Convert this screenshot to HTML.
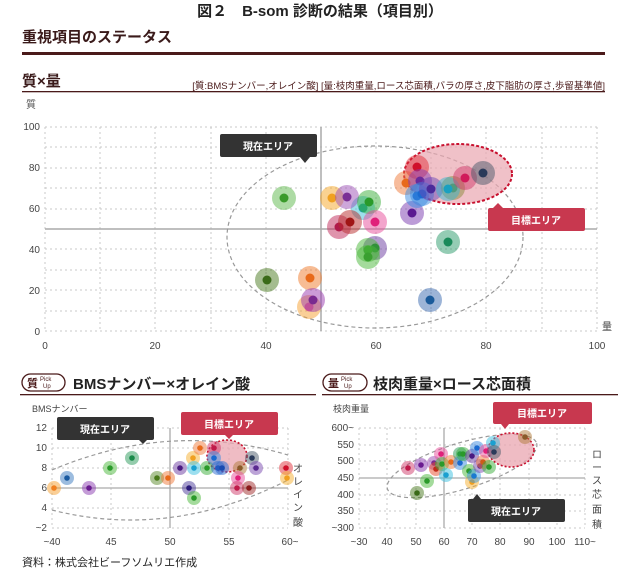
<!DOCTYPE html>
<html><head><meta charset="utf-8"><style>
html,body{margin:0;padding:0;background:#fff;}
svg{display:block;font-family:"Liberation Sans","Noto Sans CJK JP",sans-serif;}
.g{stroke:#c8c8c8;stroke-width:1;stroke-dasharray:2 3;fill:none}
.t{font-size:10px;fill:#444}
.b circle:nth-child(odd){opacity:.5}
</style></head><body>
<svg width="640" height="569" viewBox="0 0 640 569" xmlns="http://www.w3.org/2000/svg">
<text x="320" y="16" text-anchor="middle" font-size="15" font-weight="bold" fill="#222">図２　B-som 診断の結果（項目別）</text>
<text x="22" y="42" font-size="15" font-weight="bold" fill="#3a1a1a">重視項目のステータス</text>
<rect x="22" y="52" width="583" height="3" fill="#4a1a1a"/>
<text x="22" y="86" font-size="15" font-weight="bold" fill="#3a1a1a">質×量</text>
<text x="605" y="89" text-anchor="end" font-size="9.5" fill="#4a1a1a">[質:BMSナンバー,オレイン酸] [量:枝肉重量,ロース芯面積,バラの厚さ,皮下脂肪の厚さ,歩留基準値]</text>
<rect x="22" y="91" width="583" height="1.3" fill="#4a1a1a"/>
<text x="26" y="108" font-size="10" fill="#555">質</text>

<g class="g">
<line x1="45" y1="127" x2="45" y2="331"/><line x1="100" y1="127" x2="100" y2="331"/><line x1="155" y1="127" x2="155" y2="331"/><line x1="211" y1="127" x2="211" y2="331"/><line x1="266" y1="127" x2="266" y2="331"/><line x1="376" y1="127" x2="376" y2="331"/><line x1="431" y1="127" x2="431" y2="331"/><line x1="486" y1="127" x2="486" y2="331"/><line x1="542" y1="127" x2="542" y2="331"/><line x1="597" y1="127" x2="597" y2="331"/>
<line x1="45" y1="127" x2="597" y2="127"/><line x1="45" y1="147" x2="597" y2="147"/><line x1="45" y1="168" x2="597" y2="168"/><line x1="45" y1="188" x2="597" y2="188"/><line x1="45" y1="209" x2="597" y2="209"/><line x1="45" y1="249" x2="597" y2="249"/><line x1="45" y1="270" x2="597" y2="270"/><line x1="45" y1="290" x2="597" y2="290"/><line x1="45" y1="311" x2="597" y2="311"/><line x1="45" y1="331" x2="597" y2="331"/>
</g>
<line x1="45" y1="229" x2="597" y2="229" stroke="#aaa" stroke-width="1.5"/>
<line x1="321" y1="127" x2="321" y2="331" stroke="#aaa" stroke-width="1.5"/>
<g class="t" text-anchor="end">
<text x="40" y="130">100</text><text x="40" y="171">80</text><text x="40" y="212">60</text><text x="40" y="253">40</text><text x="40" y="294">20</text><text x="40" y="335">0</text>
</g>
<g class="t" text-anchor="middle">
<text x="45" y="349">0</text><text x="155" y="349">20</text><text x="266" y="349">40</text><text x="376" y="349">60</text><text x="486" y="349">80</text><text x="597" y="349">100</text>
</g>
<text x="602" y="330" font-size="10" fill="#444">量</text>
<ellipse cx="375" cy="237" rx="148" ry="91" fill="none" stroke="#999" stroke-width="1.2" stroke-dasharray="4 3"/>
<ellipse cx="458" cy="174" rx="54" ry="30" fill="#e9a6b0" fill-opacity=".7" stroke="#c8102e" stroke-width="2" stroke-dasharray="3 2"/>
<g class="b">
<circle cx="284" cy="198" r="12" fill="#5cb84a"/><circle cx="284" cy="198" r="4.5" fill="#3a9a2a"/>
<circle cx="332" cy="198" r="12" fill="#f5a623"/><circle cx="332" cy="198" r="4.5" fill="#f0a020"/>
<circle cx="363" cy="208" r="12" fill="#3cc0d8"/><circle cx="363" cy="208" r="4.5" fill="#1aa0a0"/>
<circle cx="347" cy="197" r="12" fill="#9b4fb5"/><circle cx="347" cy="197" r="4.5" fill="#7a2f95"/>
<circle cx="369" cy="202" r="12" fill="#3aad3a"/><circle cx="369" cy="202" r="4.5" fill="#2a9a2a"/>
<circle cx="375" cy="222" r="12" fill="#e84c9a"/><circle cx="375" cy="222" r="4.5" fill="#e0207a"/>
<circle cx="339" cy="227" r="12" fill="#c02a5a"/><circle cx="339" cy="227" r="4.5" fill="#b01a4a"/>
<circle cx="350" cy="222" r="12" fill="#b82a2a"/><circle cx="350" cy="222" r="4.5" fill="#a01515"/>
<circle cx="375" cy="248" r="12" fill="#6a3aa0"/><circle cx="375" cy="248" r="4.5" fill="#1a6a3a"/>
<circle cx="368" cy="250" r="12" fill="#4ab83a"/><circle cx="368" cy="250" r="4.5" fill="#3aa030"/>
<circle cx="368" cy="257" r="12" fill="#4ab83a"/><circle cx="368" cy="257" r="4.5" fill="#3aa030"/>
<circle cx="267" cy="280" r="12" fill="#4a7a20"/><circle cx="267" cy="280" r="4.5" fill="#3a6a18"/>
<circle cx="310" cy="278" r="12" fill="#f07a2a"/><circle cx="310" cy="278" r="4.5" fill="#e86a1a"/>
<circle cx="309" cy="307" r="12" fill="#f5a030"/><circle cx="309" cy="307" r="4.5" fill="#e86a80"/>
<circle cx="313" cy="300" r="12" fill="#9a3ab0"/><circle cx="313" cy="300" r="4.5" fill="#7a2a90"/>
<circle cx="430" cy="300" r="12" fill="#3a6ab0"/><circle cx="430" cy="300" r="4.5" fill="#1a5a9a"/>
<circle cx="448" cy="242" r="12" fill="#2a9a6a"/><circle cx="448" cy="242" r="4.5" fill="#1a8a5a"/>
<circle cx="412" cy="213" r="12" fill="#7a3ab0"/><circle cx="412" cy="213" r="4.5" fill="#5a1a90"/>
<circle cx="406" cy="183" r="12" fill="#f07a3a"/><circle cx="406" cy="183" r="4.5" fill="#e86a1a"/>
<circle cx="417" cy="167" r="12" fill="#e0303a"/><circle cx="417" cy="167" r="4.5" fill="#d0102a"/>
<circle cx="420" cy="181" r="12" fill="#8a3ab0"/><circle cx="420" cy="181" r="4.5" fill="#6a2a9a"/>
<circle cx="417" cy="196" r="12" fill="#3a8ae0"/><circle cx="417" cy="196" r="4.5" fill="#1a6ad0"/>
<circle cx="422" cy="194" r="12" fill="#3a8ae0"/><circle cx="422" cy="194" r="4.5" fill="#1a6ad0"/>
<circle cx="431" cy="189" r="12" fill="#6a4ab8"/><circle cx="431" cy="189" r="4.5" fill="#4a2a9a"/>
<circle cx="453" cy="188" r="12" fill="#8a8a3a"/><circle cx="453" cy="188" r="4.5" fill="#6a7a2a"/>
<circle cx="448" cy="189" r="12" fill="#3ab8d0"/><circle cx="448" cy="189" r="4.5" fill="#1aa0c0"/>
<circle cx="465" cy="178" r="12" fill="#d03a6a"/><circle cx="465" cy="178" r="4.5" fill="#d01a5a"/>
<circle cx="483" cy="173" r="12" fill="#4a5a6a"/><circle cx="483" cy="173" r="4.5" fill="#2a3a5a"/>
</g>
<rect x="220" y="134" width="97" height="23" rx="2" fill="#333"/>
<path d="M300 157 L305 163 L310 157Z" fill="#333"/>
<text x="268" y="150" text-anchor="middle" font-size="10" font-weight="bold" fill="#fff">現在エリア</text>
<rect x="488" y="208" width="97" height="23" rx="2" fill="#c8384f"/>
<path d="M493 208 L498 203 L503 208Z" fill="#c8384f"/>
<text x="536" y="224" text-anchor="middle" font-size="10" font-weight="bold" fill="#fff">目標エリア</text>

<rect x="22" y="374" width="43" height="17" rx="8.5" fill="#fff" stroke="#4a1a1a" stroke-width="1.3"/>
<text x="27" y="387" font-size="11" font-weight="bold" fill="#4a1a1a">質</text>
<text x="40" y="381" font-size="6" fill="#4a1a1a">Pick</text><text x="43" y="388" font-size="6" fill="#4a1a1a">Up</text>
<text x="73" y="389" font-size="15" font-weight="bold" fill="#222">BMSナンバー×オレイン酸</text>
<rect x="20" y="394" width="296" height="1.3" fill="#4a1a1a"/>
<text x="32" y="412" font-size="9" fill="#444">BMSナンバー</text>
<g class="g">
<line x1="52" y1="428" x2="52" y2="528"/><line x1="111" y1="428" x2="111" y2="528"/><line x1="229" y1="428" x2="229" y2="528"/><line x1="288" y1="428" x2="288" y2="528"/>
<line x1="52" y1="428" x2="288" y2="428"/><line x1="52" y1="448" x2="288" y2="448"/><line x1="52" y1="468" x2="288" y2="468"/><line x1="52" y1="508" x2="288" y2="508"/><line x1="52" y1="528" x2="288" y2="528"/>
</g>
<line x1="52" y1="488" x2="288" y2="488" stroke="#aaa" stroke-width="1.3"/>
<line x1="170" y1="428" x2="170" y2="528" stroke="#aaa" stroke-width="1.3"/>
<g class="t" text-anchor="end">
<text x="47" y="431">12</text><text x="47" y="451">10</text><text x="47" y="471">8</text><text x="47" y="491">6</text><text x="47" y="511">4</text><text x="47" y="531">~2</text>
</g>
<g class="t" text-anchor="middle">
<text x="52" y="545">~40</text><text x="111" y="545">45</text><text x="170" y="545">50</text><text x="229" y="545">55</text><text x="290" y="545">60~</text>
</g>
<g font-size="10" fill="#444" text-anchor="middle">
<text x="298" y="472">オ</text><text x="298" y="485">レ</text><text x="298" y="498">イ</text><text x="298" y="511">ン</text><text x="298" y="526">酸</text>
</g>
<path d="M52 470 Q170 420 288 455" fill="none" stroke="#999" stroke-dasharray="4 3" stroke-width="1.2"/>
<path d="M52 510 Q170 540 288 480" fill="none" stroke="#999" stroke-dasharray="4 3" stroke-width="1.2"/>
<ellipse cx="227" cy="456" rx="20" ry="16" fill="#e9a6b0" fill-opacity=".75" stroke="#c8102e" stroke-width="1.6" stroke-dasharray="2 2"/>
<g class="b">
<circle cx="54" cy="488" r="7" fill="#f5a030"/><circle cx="54" cy="488" r="2.8" fill="#f08020"/>
<circle cx="67" cy="478" r="7" fill="#3a7ac0"/><circle cx="67" cy="478" r="2.8" fill="#1a5aa0"/>
<circle cx="89" cy="488" r="7" fill="#8a3ab0"/><circle cx="89" cy="488" r="2.8" fill="#6a1a90"/>
<circle cx="110" cy="468" r="7" fill="#4ab83a"/><circle cx="110" cy="468" r="2.8" fill="#2a9a2a"/>
<circle cx="132" cy="458" r="7" fill="#2a9a5a"/><circle cx="132" cy="458" r="2.8" fill="#1a8a4a"/>
<circle cx="157" cy="478" r="7" fill="#5a8a2a"/><circle cx="157" cy="478" r="2.8" fill="#4a7a1a"/>
<circle cx="168" cy="478" r="7" fill="#f07a3a"/><circle cx="168" cy="478" r="2.8" fill="#e86a1a"/>
<circle cx="180" cy="468" r="7" fill="#6a3aa0"/><circle cx="180" cy="468" r="2.8" fill="#4a1a80"/>
<circle cx="189" cy="488" r="7" fill="#4a3a9a"/><circle cx="189" cy="488" r="2.8" fill="#2a1a7a"/>
<circle cx="193" cy="458" r="7" fill="#f5b030"/><circle cx="193" cy="458" r="2.8" fill="#f0a020"/>
<circle cx="194" cy="468" r="7" fill="#3ac0e0"/><circle cx="194" cy="468" r="2.8" fill="#1aa0d0"/>
<circle cx="194" cy="498" r="7" fill="#4ab83a"/><circle cx="194" cy="498" r="2.8" fill="#2a9a2a"/>
<circle cx="200" cy="448" r="7" fill="#f07a3a"/><circle cx="200" cy="448" r="2.8" fill="#e86a1a"/>
<circle cx="207" cy="468" r="7" fill="#3aad3a"/><circle cx="207" cy="468" r="2.8" fill="#2a9a2a"/>
<circle cx="214" cy="448" r="7" fill="#d03a6a"/><circle cx="214" cy="448" r="2.8" fill="#c01a4a"/>
<circle cx="214" cy="458" r="7" fill="#3a8ae0"/><circle cx="214" cy="458" r="2.8" fill="#1a6ad0"/>
<circle cx="218" cy="468" r="7" fill="#2a6ad0"/><circle cx="218" cy="468" r="2.8" fill="#1a4ab0"/>
<circle cx="222" cy="468" r="7" fill="#2a6ad0"/><circle cx="222" cy="468" r="2.8" fill="#1a4ab0"/>
<circle cx="240" cy="468" r="7" fill="#b07a3a"/><circle cx="240" cy="468" r="2.8" fill="#8a5a2a"/>
<circle cx="238" cy="478" r="7" fill="#e84c9a"/><circle cx="238" cy="478" r="2.8" fill="#e0207a"/>
<circle cx="237" cy="488" r="7" fill="#d03a6a"/><circle cx="237" cy="488" r="2.8" fill="#c01a4a"/>
<circle cx="249" cy="488" r="7" fill="#a02a2a"/><circle cx="249" cy="488" r="2.8" fill="#8a1a1a"/>
<circle cx="252" cy="458" r="7" fill="#4a5a6a"/><circle cx="252" cy="458" r="2.8" fill="#2a3a5a"/>
<circle cx="256" cy="468" r="7" fill="#7a4ab0"/><circle cx="256" cy="468" r="2.8" fill="#5a2a90"/>
<circle cx="286" cy="468" r="7" fill="#e0303a"/><circle cx="286" cy="468" r="2.8" fill="#d0102a"/>
<circle cx="287" cy="478" r="7" fill="#f5b030"/><circle cx="287" cy="478" r="2.8" fill="#f0a020"/>
</g>
<rect x="57" y="417" width="97" height="23" rx="2" fill="#333"/>
<path d="M139 440 L143 444 L147 440Z" fill="#333"/>
<text x="105" y="433" text-anchor="middle" font-size="10" font-weight="bold" fill="#fff">現在エリア</text>
<rect x="181" y="412" width="97" height="23" rx="2" fill="#c8384f"/>
<path d="M225 435 L229 439 L233 435Z" fill="#c8384f"/>
<text x="229" y="428" text-anchor="middle" font-size="10" font-weight="bold" fill="#fff">目標エリア</text>

<rect x="323" y="374" width="44" height="17" rx="8.5" fill="#fff" stroke="#4a1a1a" stroke-width="1.3"/>
<text x="328" y="387" font-size="11" font-weight="bold" fill="#4a1a1a">量</text>
<text x="341" y="381" font-size="6" fill="#4a1a1a">Pick</text><text x="344" y="388" font-size="6" fill="#4a1a1a">Up</text>
<text x="373" y="389" font-size="15" font-weight="bold" fill="#222">枝肉重量×ロース芯面積</text>
<rect x="322" y="394" width="296" height="1.3" fill="#4a1a1a"/>
<text x="333" y="412" font-size="9" fill="#444">枝肉重量</text>
<g class="g">
<line x1="359" y1="428" x2="359" y2="528"/><line x1="387" y1="428" x2="387" y2="528"/><line x1="416" y1="428" x2="416" y2="528"/><line x1="472" y1="428" x2="472" y2="528"/><line x1="500" y1="428" x2="500" y2="528"/><line x1="529" y1="428" x2="529" y2="528"/><line x1="557" y1="428" x2="557" y2="528"/><line x1="585" y1="428" x2="585" y2="528"/>
<line x1="359" y1="428" x2="585" y2="428"/><line x1="359" y1="445" x2="585" y2="445"/><line x1="359" y1="461" x2="585" y2="461"/><line x1="359" y1="495" x2="585" y2="495"/><line x1="359" y1="511" x2="585" y2="511"/><line x1="359" y1="528" x2="585" y2="528"/>
</g>
<line x1="359" y1="478" x2="585" y2="478" stroke="#aaa" stroke-width="1.3"/>
<line x1="444" y1="428" x2="444" y2="528" stroke="#aaa" stroke-width="1.3"/>
<g class="t" text-anchor="end">
<text x="354" y="431">600~</text><text x="354" y="448">550</text><text x="354" y="464">500</text><text x="354" y="481">450</text><text x="354" y="498">400</text><text x="354" y="514">350</text><text x="354" y="531">~300</text>
</g>
<g class="t" text-anchor="middle">
<text x="359" y="545">~30</text><text x="387" y="545">40</text><text x="416" y="545">50</text><text x="444" y="545">60</text><text x="472" y="545">70</text><text x="500" y="545">80</text><text x="529" y="545">90</text><text x="557" y="545">100</text><text x="585" y="545">110~</text>
</g>
<g font-size="10" fill="#444" text-anchor="middle">
<text x="597" y="458">ロ</text><text x="597" y="471">ー</text><text x="597" y="484">ス</text><text x="597" y="498">芯</text><text x="597" y="513">面</text><text x="597" y="528">積</text>
</g>
<ellipse cx="462" cy="466" rx="78" ry="23" transform="rotate(-17 462 466)" fill="none" stroke="#999" stroke-dasharray="4 3" stroke-width="1.2"/>
<ellipse cx="511" cy="450" rx="23" ry="17" fill="#e9a6b0" fill-opacity=".75" stroke="#c8102e" stroke-width="1.6" stroke-dasharray="2 2"/>
<g class="b">
<circle cx="408" cy="468" r="7" fill="#d03a6a"/><circle cx="408" cy="468" r="2.8" fill="#c01a4a"/>
<circle cx="421" cy="465" r="7" fill="#8a3ab0"/><circle cx="421" cy="465" r="2.8" fill="#6a1a90"/>
<circle cx="417" cy="493" r="7" fill="#4a7a20"/><circle cx="417" cy="493" r="2.8" fill="#3a6a18"/>
<circle cx="427" cy="481" r="7" fill="#4ab83a"/><circle cx="427" cy="481" r="2.8" fill="#2a9a2a"/>
<circle cx="434" cy="463" r="7" fill="#9a4ab0"/><circle cx="434" cy="463" r="2.8" fill="#7a2a90"/>
<circle cx="436" cy="469" r="7" fill="#e84a2a"/><circle cx="436" cy="469" r="2.8" fill="#c02a1a"/>
<circle cx="441" cy="454" r="7" fill="#e84c9a"/><circle cx="441" cy="454" r="2.8" fill="#e0207a"/>
<circle cx="442" cy="464" r="7" fill="#3aad3a"/><circle cx="442" cy="464" r="2.8" fill="#2a9a2a"/>
<circle cx="446" cy="475" r="7" fill="#3ac0e0"/><circle cx="446" cy="475" r="2.8" fill="#1aa0d0"/>
<circle cx="451" cy="462" r="7" fill="#f07a3a"/><circle cx="451" cy="462" r="2.8" fill="#e86a1a"/>
<circle cx="460" cy="454" r="7" fill="#2a9a5a"/><circle cx="460" cy="454" r="2.8" fill="#1a8a4a"/>
<circle cx="460" cy="463" r="7" fill="#3a8ae0"/><circle cx="460" cy="463" r="2.8" fill="#1a6ad0"/>
<circle cx="463" cy="454" r="7" fill="#3aad3a"/><circle cx="463" cy="454" r="2.8" fill="#2a9a2a"/>
<circle cx="469" cy="471" r="7" fill="#4ab83a"/><circle cx="469" cy="471" r="2.8" fill="#2a9a2a"/>
<circle cx="472" cy="456" r="7" fill="#6a3aa0"/><circle cx="472" cy="456" r="2.8" fill="#4a1a80"/>
<circle cx="472" cy="482" r="7" fill="#f5b030"/><circle cx="472" cy="482" r="2.8" fill="#f0a020"/>
<circle cx="474" cy="476" r="7" fill="#3a9ae0"/><circle cx="474" cy="476" r="2.8" fill="#1a7ad0"/>
<circle cx="477" cy="448" r="7" fill="#3a8ae0"/><circle cx="477" cy="448" r="2.8" fill="#1a6ad0"/>
<circle cx="480" cy="466" r="7" fill="#7a4ab0"/><circle cx="480" cy="466" r="2.8" fill="#5a2a90"/>
<circle cx="483" cy="462" r="7" fill="#f07a3a"/><circle cx="483" cy="462" r="2.8" fill="#d05a1a"/>
<circle cx="486" cy="451" r="7" fill="#e84c9a"/><circle cx="486" cy="451" r="2.8" fill="#e0207a"/>
<circle cx="489" cy="467" r="7" fill="#3aad3a"/><circle cx="489" cy="467" r="2.8" fill="#2a9a2a"/>
<circle cx="493" cy="443" r="7" fill="#3ac0e0"/><circle cx="493" cy="443" r="2.8" fill="#1aa0d0"/>
<circle cx="494" cy="452" r="7" fill="#4a5a6a"/><circle cx="494" cy="452" r="2.8" fill="#2a3a5a"/>
<circle cx="525" cy="437" r="7" fill="#b07a3a"/><circle cx="525" cy="437" r="2.8" fill="#8a5a2a"/>
</g>
<rect x="493" y="402" width="99" height="22" rx="2" fill="#c8384f"/>
<path d="M501 424 L505 429 L509 424Z" fill="#c8384f"/>
<text x="542" y="417" text-anchor="middle" font-size="10" font-weight="bold" fill="#fff">目標エリア</text>
<rect x="468" y="499" width="97" height="23" rx="2" fill="#333"/>
<path d="M473 499 L477 494 L481 499Z" fill="#333"/>
<text x="516" y="515" text-anchor="middle" font-size="10" font-weight="bold" fill="#fff">現在エリア</text>

<text x="22" y="566" font-size="11" fill="#222">資料：株式会社ビーフソムリエ作成</text>
</svg>
</body></html>
